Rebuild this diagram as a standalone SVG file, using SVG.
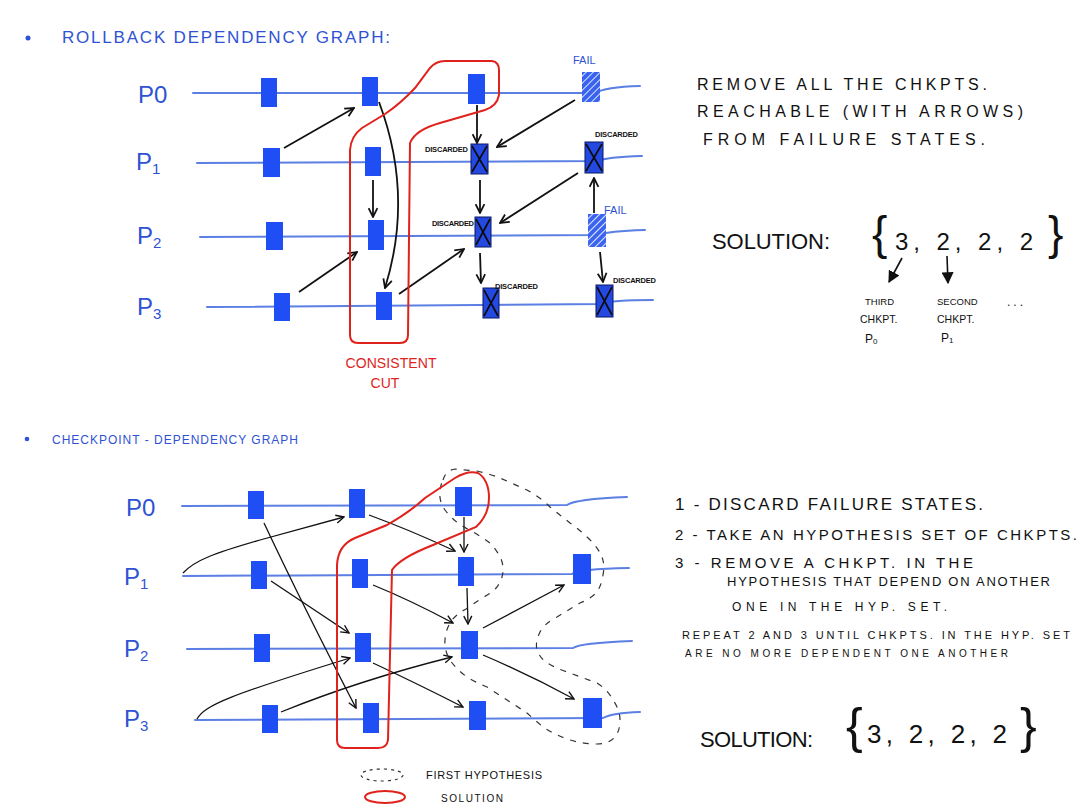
<svg xmlns="http://www.w3.org/2000/svg" width="1085" height="809" viewBox="0 0 1085 809">
<style>
.bg{fill:#ffffff}
.title{font-family:"Liberation Sans",Arial,sans-serif;fill:#2f52d4}
.plabel{font-family:"Liberation Sans",Arial,sans-serif;fill:#2f52d4;font-size:24px}
.txt{font-family:"Liberation Sans",Arial,sans-serif;fill:#111}
.tl{fill:none;stroke:#5b7fe3;stroke-width:2;stroke-linecap:round}
.ck{fill:#1f4ef5}
.hx{fill:url(#hatch)}
.xb{fill:#2449e0;stroke:#0b1660;stroke-width:1}
.xl{stroke:#0a0a0a;stroke-width:1.6;fill:none}
.ar{fill:none;stroke:#111;stroke-width:1.8;marker-end:url(#ah)}
.ar2{fill:none;stroke:#111;stroke-width:1.3;marker-end:url(#ah2)}
.red{fill:none;stroke:#e0221c;stroke-width:2}
.dash{fill:none;stroke:#333;stroke-width:1.2;stroke-dasharray:6 7;stroke-linejoin:round}
.disc{font-family:"Liberation Sans",Arial,sans-serif;font-size:7.5px;font-weight:bold;fill:#111}
.fail{font-family:"Liberation Sans",Arial,sans-serif;font-size:11px;fill:#2f52d4}
</style>
<defs>
<pattern id="hatch" patternUnits="userSpaceOnUse" width="5" height="5" patternTransform="rotate(45)">
<rect width="5" height="5" fill="#3a64f0"/>
<line x1="0" y1="0" x2="0" y2="5" stroke="#dfe6ff" stroke-width="2"/>
</pattern>
<marker id="ah" viewBox="0 0 10 10" refX="9" refY="5" markerWidth="11" markerHeight="11" markerUnits="userSpaceOnUse" orient="auto">
<path d="M1,1 L9,5 L1,9" fill="none" stroke="#111" stroke-width="1.6"/>
</marker>
<marker id="ah2" viewBox="0 0 10 10" refX="9" refY="5" markerWidth="10" markerHeight="10" markerUnits="userSpaceOnUse" orient="auto">
<path d="M1,1 L9,5 L1,9" fill="none" stroke="#111" stroke-width="1.4"/>
</marker>
<marker id="fh" viewBox="0 0 10 10" refX="9" refY="5" markerWidth="12" markerHeight="12" markerUnits="userSpaceOnUse" orient="auto">
<path d="M0,0 L10,5 L0,10 Z" fill="#111"/>
</marker>
</defs>
<rect class="bg" x="0" y="0" width="1085" height="809"/>

<!-- ===== TOP: rollback dependency graph ===== -->
<g id="title-top">
<circle cx="28" cy="38" r="2.5" fill="#2f52d4"/>
<text class="title" x="62" y="43" font-size="17" textLength="328" lengthAdjust="spacing">ROLLBACK DEPENDENCY GRAPH:</text>
</g>

<g id="top-timelines">
<path class="tl" d="M193,93 L595,93 Q605,87 640,86"/>
<path class="tl" d="M197,163 L598,161 Q606,157 642,156"/>
<path class="tl" d="M200,237 L598,235 Q608,231 645,230"/>
<path class="tl" d="M207,307 L600,304 Q612,300 653,300"/>
</g>
<g id="top-plabels">
<text class="plabel" x="138" y="103">P0</text>
<text class="plabel" x="136" y="170">P<tspan font-size="15" dy="4">1</tspan></text>
<text class="plabel" x="137" y="244">P<tspan font-size="15" dy="4">2</tspan></text>
<text class="plabel" x="137" y="315">P<tspan font-size="15" dy="4">3</tspan></text>
</g>

<g id="t-p0-c1"><rect class="ck" x="261" y="78" width="16" height="29"/></g>
<g id="t-p0-c2"><rect class="ck" x="362" y="77" width="16" height="29"/></g>
<g id="t-p0-c3"><rect class="ck" x="468" y="74" width="17" height="30"/></g>
<g id="t-p0-fail"><rect class="hx" x="582" y="72" width="18" height="30"/><text class="fail" x="573" y="64">FAIL</text></g>

<g id="t-p1-c1"><rect class="ck" x="263" y="148" width="17" height="29"/></g>
<g id="t-p1-c2"><rect class="ck" x="365" y="147" width="16" height="29"/></g>
<g id="t-p1-c3"><rect class="xb" x="471" y="144" width="17" height="30"/><path class="xl" d="M472,146 L487,172 M487,146 L472,172"/><text class="disc" x="425" y="152" textLength="43">DISCARDED</text></g>
<g id="t-p1-c4"><rect class="xb" x="585" y="142" width="18" height="31"/><path class="xl" d="M586,144 L602,171 M602,144 L586,171"/><text class="disc" x="595" y="137" textLength="43">DISCARDED</text></g>

<g id="t-p2-c1"><rect class="ck" x="266" y="222" width="17" height="28"/></g>
<g id="t-p2-c2"><rect class="ck" x="368" y="220" width="16" height="30"/></g>
<g id="t-p2-c3"><rect class="xb" x="475" y="217" width="16" height="30"/><path class="xl" d="M476,219 L490,245 M490,219 L476,245"/><text class="disc" x="432" y="226" textLength="42">DISCARDED</text></g>
<g id="t-p2-fail"><rect class="hx" x="588" y="214" width="18" height="33"/><text class="fail" x="604" y="214">FAIL</text></g>

<g id="t-p3-c1"><rect class="ck" x="274" y="293" width="16" height="28"/></g>
<g id="t-p3-c2"><rect class="ck" x="376" y="292" width="16" height="28"/></g>
<g id="t-p3-c3"><rect class="xb" x="483" y="288" width="16" height="30"/><path class="xl" d="M484,290 L498,316 M498,290 L484,316"/><text class="disc" x="495" y="289" textLength="43">DISCARDED</text></g>
<g id="t-p3-c4"><rect class="xb" x="596" y="285" width="17" height="32"/><path class="xl" d="M597,287 L612,315 M612,287 L597,315"/><text class="disc" x="613" y="283" textLength="43">DISCARDED</text></g>

<g id="top-connectors">
<path class="ar" d="M284,148 L354,108"/>
<path class="ar" d="M379,102 Q414,195 385,288"/>
<path class="ar" d="M373,180 L373,217"/>
<path class="ar" d="M299,292 L357,252"/>
<path class="ar" d="M399,294 L464,249"/>
<path class="ar" d="M477,105 L477,143"/>
<path class="ar" d="M575,100 L497,147"/>
<path class="ar" d="M480,180 L480,213"/>
<path class="ar" d="M578,173 L500,223"/>
<path class="ar" d="M594,213 L594,178"/>
<path class="ar" d="M480,253 L481,283"/>
<path class="ar" d="M600,252 L603,282"/>
</g>

<g id="consistent-cut">
<path class="red" d="M350,335 L350,150 Q351,136 362,128 L385,114 Q400,104 415,88 L430,68 Q436,61 445,61 L492,61 Q499,62 499,70 L499,95 Q497,106 485,110 L440,123 Q415,130 410,143 L408,335 Q408,343 400,343 L358,343 Q350,343 350,335 Z"/>
<text x="391" y="368" font-family="Liberation Sans,Arial,sans-serif" font-size="14" fill="#e0221c" text-anchor="middle" textLength="91" lengthAdjust="spacing">CONSISTENT</text>
<text x="385" y="388" font-family="Liberation Sans,Arial,sans-serif" font-size="14" fill="#e0221c" text-anchor="middle">CUT</text>
</g>

<g id="top-notes">
<text class="txt" x="697" y="90" font-size="16" textLength="290" lengthAdjust="spacing">REMOVE ALL THE CHKPTS.</text>
<text class="txt" x="697" y="117" font-size="16" textLength="326" lengthAdjust="spacing">REACHABLE (WITH ARROWS)</text>
<text class="txt" x="703" y="145" font-size="16" textLength="282" lengthAdjust="spacing">FROM FAILURE STATES.</text>
</g>

<g id="top-solution">
<text class="txt" x="712" y="249" font-size="22" textLength="118" lengthAdjust="spacing">SOLUTION:</text>
<text class="txt" x="872" y="249" font-size="46">{</text>
<text class="txt" x="895" y="250" font-size="24" textLength="138" lengthAdjust="spacing">3, 2, 2, 2</text>
<text class="txt" x="1048" y="249" font-size="46">}</text>
<path d="M902,258 L889,282" stroke="#111" stroke-width="1.6" fill="none" marker-end="url(#fh)"/>
<path d="M947,256 L948,283" stroke="#111" stroke-width="1.6" fill="none" marker-end="url(#fh)"/>
<text class="txt" x="865" y="305" font-size="9.5">THIRD</text>
<text class="txt" x="860" y="323" font-size="10.5">CHKPT.</text>
<text class="txt" x="865" y="343" font-size="12">P<tspan font-size="8" dy="1">0</tspan></text>
<text class="txt" x="937" y="305" font-size="9.5">SECOND</text>
<text class="txt" x="937" y="323" font-size="10.5">CHKPT.</text>
<text class="txt" x="941" y="342" font-size="12">P<tspan font-size="8" dy="1">1</tspan></text>
<text class="txt" x="1007" y="306" font-size="12" letter-spacing="3">...</text>
</g>

<!-- ===== BOTTOM: checkpoint dependency graph ===== -->
<g id="title-bottom">
<circle cx="27" cy="439" r="2.3" fill="#2f52d4"/>
<text class="title" x="52" y="444" font-size="12" textLength="246" lengthAdjust="spacing">CHECKPOINT - DEPENDENCY GRAPH</text>
</g>

<g id="bottom-timelines">
<path class="tl" d="M182,506 L567,505 Q575,499 627,497"/>
<path class="tl" d="M183,576 L572,574 Q578,569 629,568"/>
<path class="tl" d="M187,649 L573,648 Q580,643 632,641"/>
<path class="tl" d="M195,720 L603,718 Q612,713 640,712"/>
</g>
<g id="bottom-plabels">
<text class="plabel" x="126" y="516">P0</text>
<text class="plabel" x="124" y="585">P<tspan font-size="15" dy="4">1</tspan></text>
<text class="plabel" x="124" y="657">P<tspan font-size="15" dy="4">2</tspan></text>
<text class="plabel" x="124" y="727">P<tspan font-size="15" dy="4">3</tspan></text>
</g>

<g id="b-p0-c1"><rect class="ck" x="248" y="491" width="16" height="28"/></g>
<g id="b-p0-c2"><rect class="ck" x="349" y="489" width="16" height="29"/></g>
<g id="b-p0-c3"><rect class="ck" x="455" y="487" width="17" height="29"/></g>
<g id="b-p1-c1"><rect class="ck" x="251" y="561" width="16" height="28"/></g>
<g id="b-p1-c2"><rect class="ck" x="352" y="559" width="16" height="29"/></g>
<g id="b-p1-c3"><rect class="ck" x="458" y="557" width="16" height="29"/></g>
<g id="b-p1-c4"><rect class="ck" x="573" y="554" width="18" height="30"/></g>
<g id="b-p2-c1"><rect class="ck" x="254" y="634" width="16" height="28"/></g>
<g id="b-p2-c2"><rect class="ck" x="355" y="633" width="16" height="29"/></g>
<g id="b-p2-c3"><rect class="ck" x="461" y="631" width="17" height="28"/></g>
<g id="b-p3-c1"><rect class="ck" x="262" y="705" width="16" height="28"/></g>
<g id="b-p3-c2"><rect class="ck" x="363" y="703" width="16" height="30"/></g>
<g id="b-p3-c3"><rect class="ck" x="469" y="701" width="17" height="29"/></g>
<g id="b-p3-c4"><rect class="ck" x="583" y="698" width="19" height="30"/></g>

<g id="bottom-connectors">
<path class="ar2" d="M183,573 C195,560 215,553 260,540 L344,517"/>
<path class="ar2" d="M264,523 Q305,610 356,708"/>
<path class="ar2" d="M369,515 Q410,530 455,551"/>
<path class="ar2" d="M464,517 L464,552"/>
<path class="ar2" d="M271,581 L349,633"/>
<path class="ar2" d="M373,585 Q410,600 453,623"/>
<path class="ar2" d="M467,588 L468,624"/>
<path class="ar2" d="M483,628 L564,585"/>
<path class="ar2" d="M197,719 C205,705 230,695 350,658"/>
<path class="ar2" d="M281,712 Q360,680 452,657"/>
<path class="ar2" d="M373,663 Q420,685 463,707"/>
<path class="ar2" d="M483,655 Q530,675 574,699"/>
</g>

<g id="first-hypothesis">
<path class="dash" d="M443,480 Q446,470 455,469 L477,471 Q490,474 500,478 L527,490 Q540,497 550,507 L570,523 Q580,530 587,537 Q598,547 602,557 Q605,565 603,575 Q601,588 595,594 Q588,600 580,603 L557,617 Q545,623 540,632 Q535,642 537,650 Q540,658 546,662 Q555,668 567,672 L597,683 Q608,690 613,700 Q620,710 620,720 Q620,732 614,738 Q608,744 597,744 Q583,744 570,740 Q555,735 543,727 L527,713 L507,700 L487,687 Q475,682 467,677 Q455,668 450,660 Q444,650 445,640 Q446,628 452,620 Q458,613 466,609 L482,598 Q492,593 497,587 Q503,579 503,570 Q503,562 500,557 Q496,549 490,543 Q482,537 473,532 Q465,528 458,523 Q450,517 445,510 Q439,501 440,493 Q440,486 443,480 Z"/>
</g>

<g id="solution-outline">
<path class="red" d="M337,740 L337,565 Q338,545 355,538 L387,525 Q410,512 425,498 L455,478 Q468,470 478,473 Q489,480 489,498 Q489,515 476,527 L433,545 Q400,558 392,570 L388,740 Q387,748 378,748 L345,748 Q337,748 337,740 Z"/>
</g>

<g id="legend">
<ellipse cx="382" cy="775" rx="21" ry="6" class="dash" style="stroke-dasharray:3 4"/>
<text class="txt" x="426" y="779" font-size="11" textLength="116" lengthAdjust="spacing">FIRST HYPOTHESIS</text>
<ellipse cx="385" cy="797" rx="20" ry="6" class="red"/>
<text class="txt" x="441" y="802" font-size="10" textLength="62" lengthAdjust="spacing">SOLUTION</text>
</g>

<g id="bottom-notes">
<text class="txt" x="675" y="510" font-size="17" textLength="308" lengthAdjust="spacing">1 - DISCARD FAILURE STATES.</text>
<text class="txt" x="675" y="540" font-size="15" textLength="402" lengthAdjust="spacing">2 - TAKE AN HYPOTHESIS SET OF CHKPTS.</text>
<text class="txt" x="675" y="568" font-size="15" textLength="298" lengthAdjust="spacing">3 - REMOVE A CHKPT. IN THE</text>
<text class="txt" x="727" y="586" font-size="13" textLength="323" lengthAdjust="spacing">HYPOTHESIS THAT DEPEND ON ANOTHER</text>
<text class="txt" x="732" y="611" font-size="12" textLength="215" lengthAdjust="spacing">ONE IN THE HYP. SET.</text>
<text class="txt" x="682" y="639" font-size="11" textLength="388" lengthAdjust="spacing">REPEAT 2 AND 3 UNTIL CHKPTS. IN THE HYP. SET</text>
<text class="txt" x="685" y="657" font-size="10" textLength="323" lengthAdjust="spacing">ARE NO MORE DEPENDENT ONE ANOTHER</text>
</g>

<g id="bottom-solution">
<text class="txt" x="700" y="747" font-size="22" textLength="113" lengthAdjust="spacing">SOLUTION:</text>
<text class="txt" x="846" y="743" font-size="50">{</text>
<text class="txt" x="867" y="743" font-size="26" textLength="140" lengthAdjust="spacing">3, 2, 2, 2</text>
<text class="txt" x="1020" y="743" font-size="50">}</text>
</g>
</svg>
